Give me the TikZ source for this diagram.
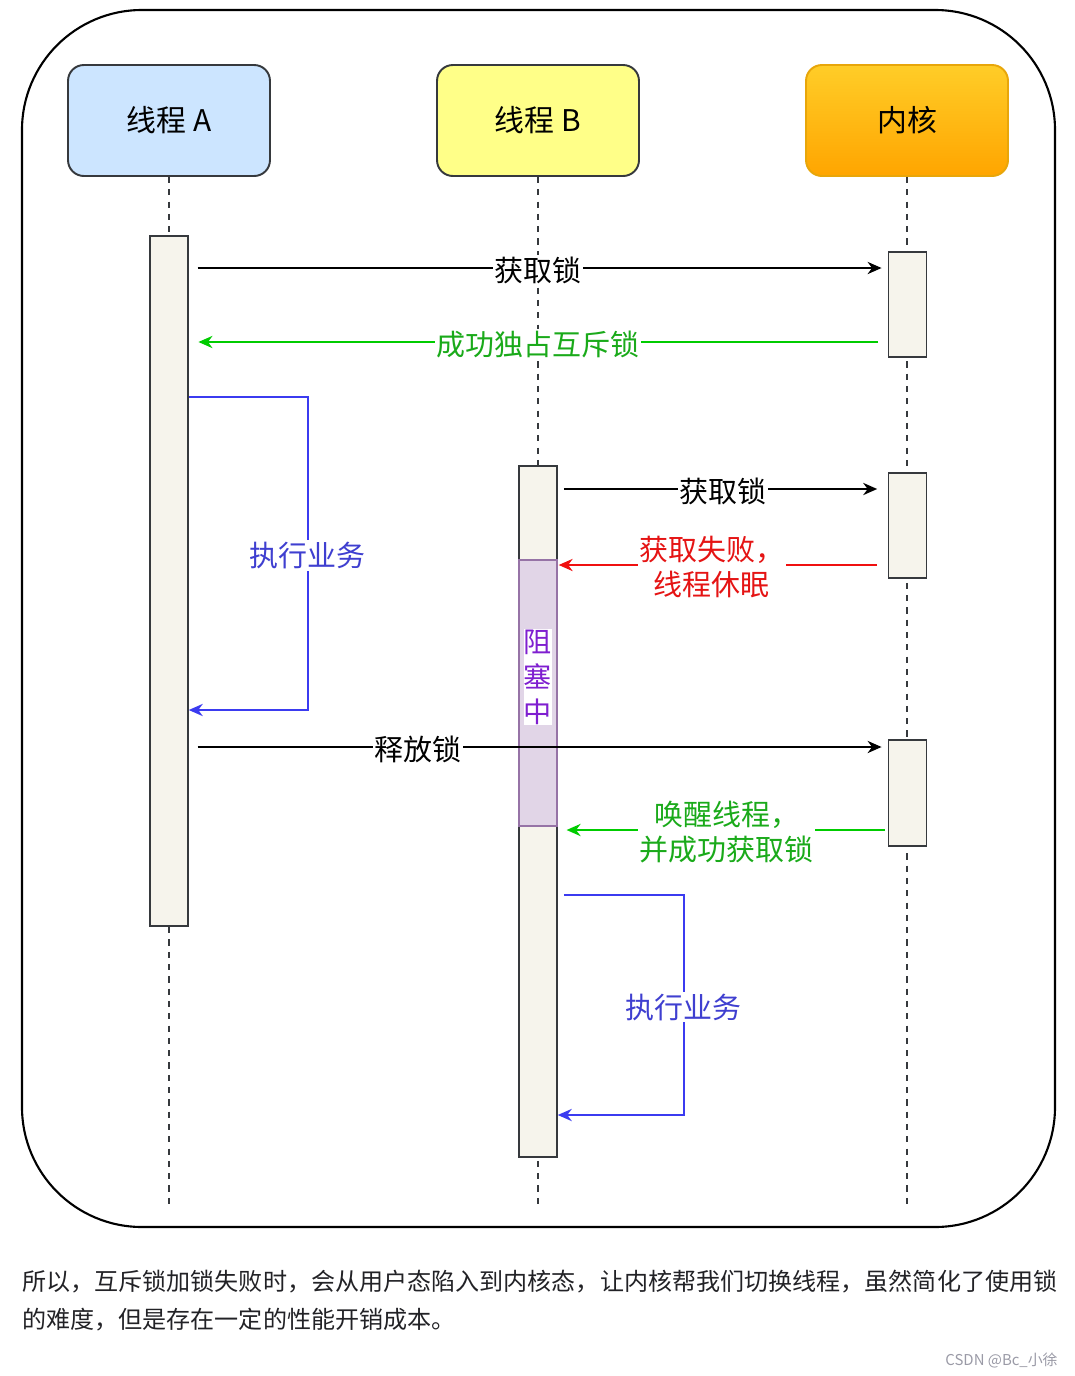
\documentclass[tikz,border=0pt]{standalone}
\usepackage{fontspec}
\setmainfont{Noto Sans CJK SC}
\usepackage{tikz}
\usetikzlibrary{arrows.meta, positioning}

\definecolor{lineGray}{HTML}{36393D}
\definecolor{barFill}{HTML}{F6F4EC}
\definecolor{headA}{HTML}{CCE5FF}
\definecolor{headB}{HTML}{FFFF88}
\definecolor{kernTop}{HTML}{FFCD28}
\definecolor{kernBot}{HTML}{FFA500}
\definecolor{kernEdge}{HTML}{E8A60A}
\definecolor{blkFill}{HTML}{E1D5E7}
\definecolor{blkEdge}{HTML}{9673A6}
\definecolor{blkText}{HTML}{7F1FD0}
\definecolor{okGreen}{HTML}{00CC00}
\definecolor{okGreenT}{HTML}{1AAA1A}
\definecolor{failRed}{HTML}{F01010}
\definecolor{failRedT}{HTML}{E51414}
\definecolor{loopBlue}{HTML}{3B3BF0}
\definecolor{loopBlueT}{HTML}{3F3FD0}
\definecolor{bodyText}{HTML}{222226}
\definecolor{markGray}{HTML}{9A9AA6}

\begin{document}
\begin{tikzpicture}[
  x=0.02cm, y=-0.02cm,
  font=\fontsize{16.5}{20}\selectfont,
  headbox/.style={draw=lineGray, rounded corners=9pt, line width=1.1pt,
                  minimum width=4.04cm, minimum height=2.22cm,
                  font=\fontsize{17}{20}\selectfont},
  actbar/.style={draw=lineGray, fill=barFill, line width=0.9pt,
                 minimum width=0.76cm, inner sep=0pt},
  lifeline/.style={draw=lineGray, line width=0.9pt, dash pattern=on 3.5pt off 3.5pt},
  msg/.style={-{Stealth[length=8pt, width=7pt]}, line width=0.9pt},
  loopmsg/.style={msg, draw=loopBlue},
  msglabel/.style={fill=white, inner sep=1pt, align=center, yshift=-1.2pt}
]

\useasboundingbox (0,0) rectangle (1075,1376);

\draw[line width=1.2pt, rounded corners=2.4cm] (22,10) rectangle (1055,1227);

\node[headbox, fill=headA] (hdA) at (169,120.5) {\raisebox{-2pt}{线程 A}};
\node[headbox, fill=headB] (hdB) at (538,120.5) {\raisebox{-2pt}{线程 B}};
\node[headbox, draw=kernEdge, top color=kernTop, bottom color=kernBot] (hdK) at (907,120.5) {\raisebox{-2pt}{内核}};

\coordinate (endA) at (169,1210);
\coordinate (endB) at (538,1210);
\coordinate (endK) at (907,1210);
\draw[lifeline] (hdA) -- (endA);
\draw[lifeline] (hdB) -- (endB);
\draw[lifeline] (hdK) -- (endK);

\node[actbar, minimum height=13.8cm] (actA) at (169,581) {};
\node[actbar, minimum height=13.82cm] (actB) at (538,811.5) {};
\node[actbar, draw=blkEdge, fill=blkFill, minimum height=5.32cm] (blkB) at (538,693) {};
\node[actbar, minimum height=2.1cm] (actK1) at (907.5,304.5) {};
\node[actbar, minimum height=2.1cm] (actK2) at (907.5,525.5) {};
\node[actbar, minimum height=2.12cm] (actK3) at (907.5,793) {};

\node[fill=white, inner sep=0pt, align=center, text=blkText,
      font=\fontsize{16}{20}\selectfont] (blkTxt) at (538,677) {阻\\塞\\中};

\draw[msg, shorten <=5pt, shorten >=3.5pt] (actA.east |- 0,268)
  -- node[msglabel] {获取锁} (actK1.west |- 0,268);
\draw[msg, draw=okGreen, shorten <=5.5pt, shorten >=5.5pt] (actK1.west |- 0,342)
  -- node[msglabel, text=okGreenT] {成功独占互斥锁} (actA.east |- 0,342);
\draw[loopmsg] (actA.east |- 0,397) -- ++(119,0)
  |- node[pos=0.25, msglabel, text=loopBlueT] {执行业务} (actA.east |- 0,710);

\draw[msg, shorten <=3.5pt, shorten >=6pt] (actB.east |- 0,489)
  -- node[msglabel] {获取锁} (actK2.west |- 0,489);
\draw[msg, draw=failRed, shorten <=6pt, shorten >=0.5pt] (actK2.west |- 0,565)
  -- node[pos=0.533, msglabel, text=failRedT] {获取失败，\\线程休眠} (blkB.east |- 0,565);

\draw[msg, shorten <=5pt, shorten >=3.5pt] (actA.east |- 0,747)
  -- node[pos=0.328, msglabel] {释放锁} (actK3.west |- 0,747);
\draw[msg, draw=okGreen, shorten <=1.5pt, shorten >=5pt] (actK3.west |- 0,830)
  -- node[pos=0.488, msglabel, text=okGreenT] {唤醒线程，\\并成功获取锁} (actB.east |- 0,830);

\draw[loopmsg, shorten <=3.5pt] (actB.east |- 0,895) -- ++(126,0)
  |- node[pos=0.25, msglabel, text=loopBlueT] {执行业务} (actB.east |- 0,1115);

\node[anchor=west, inner sep=0pt, text=bodyText, font=\fontsize{13.7}{16}\selectfont]
  (note1) at (22,1282) {所以，互斥锁加锁失败时，会从用户态陷入到内核态，让内核帮我们切换线程，虽然简化了使用锁};
\node[anchor=west, inner sep=0pt, text=bodyText, font=\fontsize{13.7}{16}\selectfont]
  (note2) at (22,1320) {的难度，但是存在一定的性能开销成本。};
\node[anchor=east, inner sep=0pt, text=markGray, font=\fontsize{8.5}{10}\selectfont]
  (mark) at (1058,1360) {CSDN @Bc\_小徐};

\end{tikzpicture}
\end{document}
